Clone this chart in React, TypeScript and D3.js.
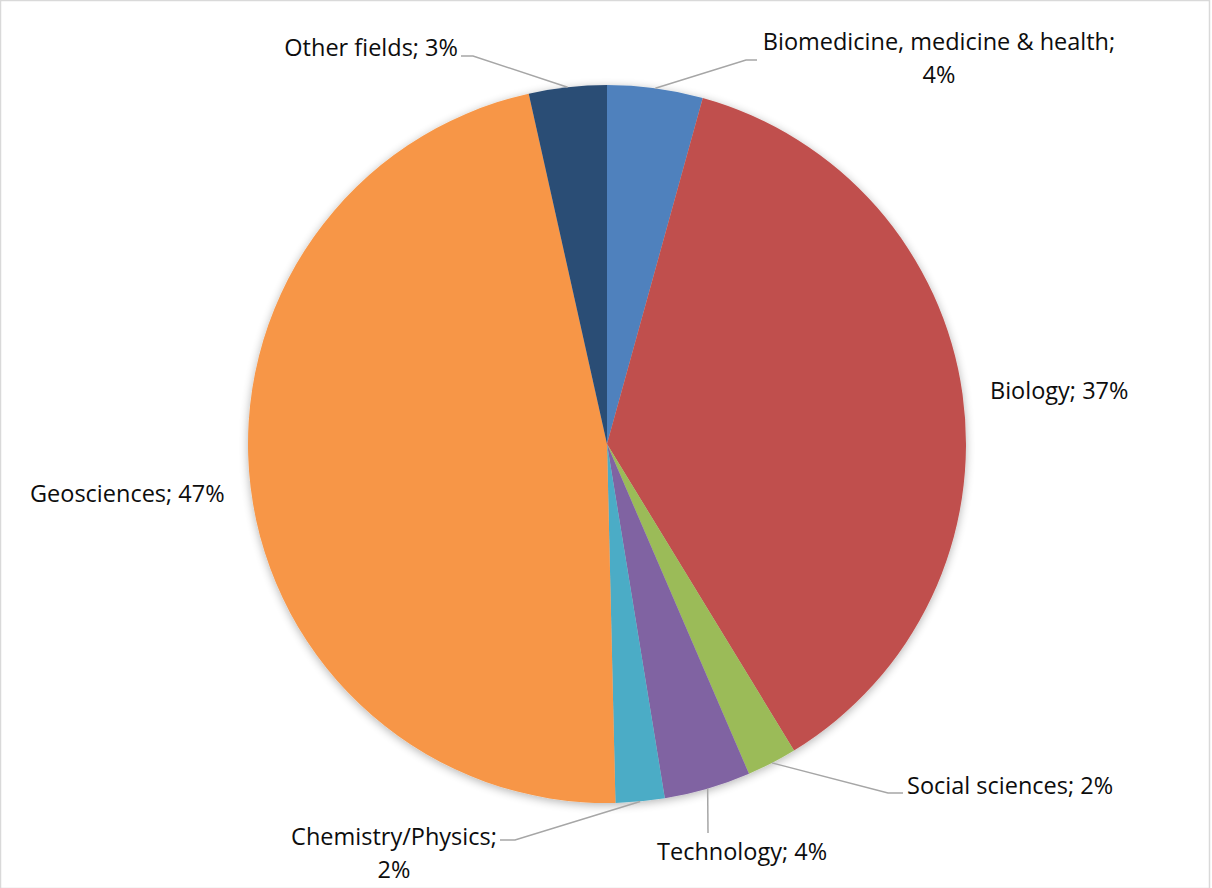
import React from "react";
import * as d3 from "d3";

const categories = [
  "Biomedicine, medicine & health",
  "Biology",
  "Social sciences",
  "Technology",
  "Chemistry/Physics",
  "Geosciences",
  "Other fields",
];
const values = [4.3, 37.0, 2.25, 3.9, 2.2, 46.9, 3.5];
const percentLabels = ["4%", "37%", "2%", "4%", "2%", "47%", "3%"];
const colors = ["#4F81BD", "#C0504D", "#9BBB59", "#8064A2", "#4BACC6", "#F79646", "#2C4D75"];

// label layout (positions only)
type Lay = {
  lines: string[];
  x: number;
  y: number;
  anchor: "start" | "middle" | "end";
  elbow: [number, number] | null;
  end: [number, number] | null;
};
const layout: Lay[] = [
  { lines: ["Biomedicine, medicine & health;", "4%"], x: 939, y: 50, anchor: "middle", elbow: [746, 60], end: [757, 60] },
  { lines: ["Biology; 37%"], x: 990, y: 399, anchor: "start", elbow: null, end: null },
  { lines: ["Social sciences; 2%"], x: 907, y: 794, anchor: "start", elbow: [888, 793], end: [903, 793] },
  { lines: ["Technology; 4%"], x: 657, y: 860, anchor: "start", elbow: [708, 833], end: null },
  { lines: ["Chemistry/Physics;", "2%"], x: 394, y: 845, anchor: "middle", elbow: [515, 840], end: [500, 840] },
  { lines: ["Geosciences; 47%"], x: 30, y: 502, anchor: "start", elbow: null, end: null },
  { lines: ["Other fields; 3%"], x: 458, y: 56, anchor: "end", elbow: [473, 56], end: [461, 56] },
];

export default function App() {
  const W = 1212, H = 888;
  const cx = 607, cy = 444, r = 359;
  const pie = d3.pie<number>().sort(null).value((d) => d)(values);
  const arc = d3.arc<d3.PieArcDatum<number>>().innerRadius(0).outerRadius(r);
  const font = "'Open Sans', sans-serif";
  return (
    <svg width={W} height={H} style={{ position: "absolute", left: 0, top: 0, background: "#fff" }}>
      <defs>
        <filter id="sh" x="-10%" y="-10%" width="120%" height="120%">
          <feGaussianBlur in="SourceAlpha" stdDeviation="5" />
          <feOffset dx="0" dy="2" result="b" />
          <feComponentTransfer><feFuncA type="linear" slope="0.3" /></feComponentTransfer>
          <feMerge><feMergeNode /><feMergeNode in="SourceGraphic" /></feMerge>
        </filter>
      </defs>
      <rect x={0.5} y={0.5} width={W - 3} height={H} fill="#fff" stroke="#D9D9D9" strokeWidth={1.5} />
      <g transform={`translate(${cx},${cy})`} filter="url(#sh)">
        {pie.map((p, i) => (
          <path key={categories[i]} d={arc(p) || ""} fill={colors[i]} />
        ))}
      </g>
      {pie.map((p, i) => {
        const L = layout[i];
        if (!L.elbow) return null;
        const a = (p.startAngle + p.endAngle) / 2;
        const sx = cx + r * Math.sin(a);
        const sy = cy - r * Math.cos(a);
        const pts: [number, number][] = [[sx, sy], L.elbow];
        if (L.end) pts.push(L.end);
        return (
          <path key={"l" + i} d={d3.line()(pts) || ""} fill="none" stroke="#A6A6A6" strokeWidth={1.5} />
        );
      })}
      {layout.map((L, i) => (
        <text key={"t" + i} x={L.x} y={L.y} textAnchor={L.anchor} fontFamily={font} fontSize={23.5} fill="#0D0D0D">
          {L.lines.map((ln, j) => (
            <tspan key={j} x={L.x} dy={j === 0 ? 0 : 33}>{ln}</tspan>
          ))}
        </text>
      ))}
    </svg>
  );
}
